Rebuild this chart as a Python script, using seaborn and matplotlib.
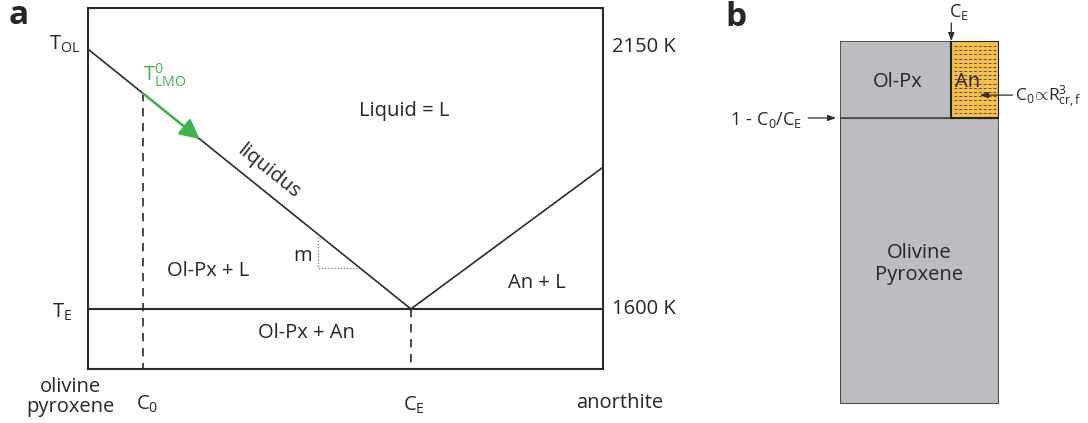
import numpy as np
import matplotlib
matplotlib.use("Agg")
import matplotlib.pyplot as plt
import seaborn as sns

sns.set_theme(style="white")
plt.rcParams['font.family'] = ['Open Sans', 'DejaVu Sans']
plt.rcParams['mathtext.fontset'] = 'custom'
plt.rcParams['mathtext.rm'] = 'Open Sans'
plt.rcParams['mathtext.it'] = 'Open Sans:italic'

# phase diagram values (composition 0 = olivine-pyroxene, 1 = anorthite)
T_OL = 2150
T_E = 1600
C_0 = 0.107
C_E = 0.627
liq_left_x = [0.0, C_E]
liq_left_T = [T_OL, T_E]
liq_right_x = [C_E, 1.0]
liq_right_T = [T_E, 1900]
solidus_x = [0.0, 1.0]
solidus_T = [T_E, T_E]
arrow_end_x = 0.217
slope_x = [0.447, 0.528]
T_range = [1473, 2237]

# panel b fractions
b_split = 0.70      # start of the An column
b_level = 0.788     # level of 1 - C0/CE


def liquidus(x):
    # temperature on the olivine-pyroxene liquidus
    return T_OL + (T_E - T_OL) * x / C_E


ink = '#2b2b2b'
green = '#3db54a'
fs = 14.5

fig = plt.figure(figsize=(10.88, 4.23), dpi=100)
W, H = 1088, 423
ax = fig.add_axes([88 / W, (H - 369) / H, 515 / W, 361 / H])
ax.set_xlim(0, 1)
ax.set_ylim(*T_range)
ax.set_xticks([])
ax.set_yticks([])
for s in ax.spines.values():
    s.set_color(ink)
    s.set_linewidth(1.5)

sns.lineplot(x=liq_left_x, y=liq_left_T, ax=ax, color=ink, lw=1.2, sort=False, estimator=None)
sns.lineplot(x=liq_right_x, y=liq_right_T, ax=ax, color=ink, lw=1.2, sort=False, estimator=None)
sns.lineplot(x=solidus_x, y=solidus_T, ax=ax, color=ink, lw=1.5, sort=False, estimator=None)

T_c0 = liquidus(C_0)
sns.lineplot(x=[C_0, C_0], y=[T_c0, T_range[0]], ax=ax, color=ink, lw=1.2,
             linestyle=(0, (5, 4)), sort=False, estimator=None)
sns.lineplot(x=[C_E, C_E], y=[T_E, T_range[0]], ax=ax, color=ink, lw=1.2,
             linestyle=(0, (5, 4)), sort=False, estimator=None)

# slope triangle
T_s1 = liquidus(slope_x[1])
sns.lineplot(x=[slope_x[0], slope_x[0], slope_x[1]], y=[liquidus(slope_x[0]), T_s1, T_s1], ax=ax,
             color='#777777', lw=0.9, linestyle=(0, (1, 1.5)), sort=False, estimator=None)

# cooling arrow
ax.annotate('', xy=(arrow_end_x, liquidus(arrow_end_x)), xytext=(C_0, T_c0),
            arrowprops=dict(arrowstyle='-|>,head_length=1.0,head_width=0.5',
                            color=green, lw=1.8, shrinkA=0, shrinkB=0))

ax.text(0.107, 2095, r'$\mathrm{T^0_{LMO}}$', color=green, fontsize=fs, ha='left', va='center')
ax.text(0.35, 1890, 'liquidus', fontsize=fs, rotation=-38.8, ha='center', va='center',
        rotation_mode='anchor')
ax.text(0.614, 2019, 'Liquid = L', fontsize=fs, ha='center', va='center')
ax.text(0.233, 1680, 'Ol-Px + L', fontsize=fs, ha='center', va='center')
ax.text(0.872, 1655, 'An + L', fontsize=fs, ha='center', va='center')
ax.text(0.425, 1549, 'Ol-Px + An', fontsize=fs, ha='center', va='center')
ax.text(0.416, 1712, 'm', fontsize=fs, ha='center', va='center')
ax.text(1.0175, 2155, '2150 K', fontsize=fs, ha='left', va='center', clip_on=False)
ax.text(1.0175, 1600, '1600 K', fontsize=fs, ha='left', va='center', clip_on=False)
ax.text(-0.015, 2160, r'$\mathrm{T_{OL}}$', fontsize=fs, ha='right', va='center')
ax.text(-0.03, 1592, r'$\mathrm{T_{E}}$', fontsize=fs, ha='right', va='center')
ax.text(-0.035, 1414, 'olivine\npyroxene', fontsize=fs, ha='center', va='center', linespacing=1.0)
ax.text(C_0 + 0.008, 1399, r'$\mathrm{C_0}$', fontsize=fs, ha='center', va='center')
ax.text(C_E + 0.006, 1397, r'$\mathrm{C_E}$', fontsize=fs, ha='center', va='center')
ax.text(1.033, 1401, 'anorthite', fontsize=fs, ha='center', va='center')

fig.text(19 / W, 1 - 15 / H, 'a', fontsize=24, fontweight='bold', ha='center', va='center')
fig.text(736 / W, 1 - 17 / H, 'b', fontsize=24, fontweight='bold', ha='center', va='center')

# panel b
bx = fig.add_axes([840 / W, (H - 404) / H, 159 / W, 363 / H])
bx.set_xlim(0, 1)
bx.set_ylim(0, 1)
bx.axis('off')
grey = '#bdbdc1'
orange = '#f7bf4d'
edge = '#4a4a4a'
bx.bar([0], [b_level], width=1, bottom=0, align='edge', color=grey, edgecolor=edge, lw=1.5)
bx.bar([0], [1 - b_level], width=b_split, bottom=b_level, align='edge', color=grey, edgecolor=edge, lw=1.3)
bx.bar([b_split], [1 - b_level], width=1 - b_split, bottom=b_level, align='edge',
       color=orange, edgecolor='#222222', lw=1.5)
rows = np.linspace(b_level + 0.014, 1 - 0.014, 17)
bx.hlines(rows, b_split + 0.02, 0.985, colors='#5a4a35', lw=0.7, linestyles=(0, (3, 2)))

bx.text(0.36, 0.887, 'Ol-Px', fontsize=fs, ha='center', va='center')
bx.text(0.80, 0.887, 'An', fontsize=fs, ha='center', va='center')
bx.text(0.497, 0.386, 'Olivine\nPyroxene', fontsize=fs, ha='center', va='center', linespacing=1.1)
bx.text(0.745, 1.08, r'$\mathrm{C_E}$', fontsize=13, ha='center', va='center', clip_on=False)
bx.annotate('', xy=(b_split, 1.0), xytext=(b_split, 1.05),
            arrowprops=dict(arrowstyle='-|>,head_length=0.4,head_width=0.15', color=ink, lw=0.9,
                            shrinkA=0, shrinkB=0), annotation_clip=False)
bx.annotate('', xy=(0.88, 0.851), xytext=(1.085, 0.851),
            arrowprops=dict(arrowstyle='-|>,head_length=0.4,head_width=0.15', color=ink, lw=0.9,
                            shrinkA=0, shrinkB=0), annotation_clip=False)
bx.text(1.10, 0.846, r'$\mathrm{C_0}\!\propto\!\mathrm{R^3_{cr,f}}$', fontsize=12.5,
        ha='left', va='center', clip_on=False)
bx.annotate('', xy=(-0.025, b_level), xytext=(-0.2, b_level),
            arrowprops=dict(arrowstyle='-|>,head_length=0.4,head_width=0.15', color=ink, lw=0.9,
                            shrinkA=0, shrinkB=0), annotation_clip=False)
bx.text(-0.235, b_level - 0.005, r'$\mathrm{1\ \text{-}\ C_0/C_E}$', fontsize=13,
        ha='right', va='center', clip_on=False)

fig.savefig('out.png', dpi=100)
